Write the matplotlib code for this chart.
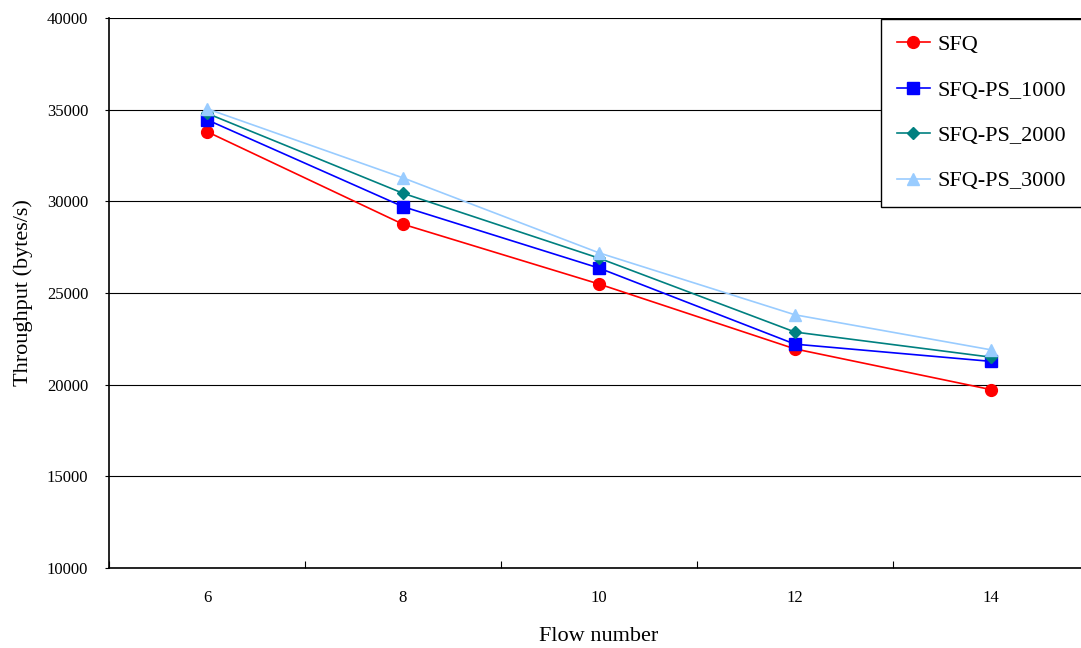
import matplotlib.pyplot as plt
from matplotlib.ticker import FixedLocator, NullFormatter

plt.rcParams['font.family'] = ['Liberation Serif', 'DejaVu Serif']

# --- data ---
flows = ['6', '8', '10', '12', '14']
sfq = [33800, 28750, 25490, 21950, 19730]
sfq_ps_1000 = [34450, 29710, 26360, 22210, 21270]
sfq_ps_2000 = [34800, 30440, 26900, 22870, 21500]
sfq_ps_3000 = [35050, 31280, 27190, 23810, 21900]

series = [
    ('SFQ', sfq, '#ff0000', 'o', 8.5),
    ('SFQ-PS_1000', sfq_ps_1000, '#0000ff', 's', 8),
    ('SFQ-PS_2000', sfq_ps_2000, '#008080', 'D', 6),
    ('SFQ-PS_3000', sfq_ps_3000, '#99ccff', '^', 9),
]

fig = plt.figure(figsize=(10.81, 6.48), dpi=100)
ax = fig.add_axes([109 / 1081, 80 / 648, 980 / 1081, 550 / 648])

x = list(range(len(flows)))
for name, vals, col, mk, ms in series:
    ax.plot(x, vals, color=col, marker=mk, markersize=ms, linewidth=1.2,
            label=name, clip_on=False)

ax.set_xlim(-0.5, len(flows) - 0.5)
ax.set_ylim(10000, 40000)
ax.set_yticks(range(10000, 40001, 5000))
ax.yaxis.grid(True, color='black', linewidth=0.8)
ax.set_axisbelow(True)

ax.set_xticks(x)
ax.set_xticklabels(flows)
ax.tick_params(axis='x', which='major', length=0, pad=16, labelsize=12)
ax.xaxis.set_minor_locator(FixedLocator([i - 0.5 for i in range(len(flows) + 1)]))
ax.xaxis.set_minor_formatter(NullFormatter())
ax.tick_params(axis='x', which='minor', direction='in', length=5, width=0.8)
ax.tick_params(axis='y', length=3, width=0.8, pad=12, labelsize=12)

for s in ['top', 'right']:
    ax.spines[s].set_visible(False)
for s in ['left', 'bottom']:
    ax.spines[s].set_linewidth(1.2)

ax.set_xlabel('Flow number', fontsize=16, labelpad=15)
ax.set_ylabel('Throughput (bytes/s)', fontsize=16, labelpad=10)

leg = ax.legend(loc='upper left', bbox_to_anchor=(881 / 1081, 1 - 19 / 648),
                bbox_transform=fig.transFigure, fontsize=16, frameon=True,
                fancybox=False, edgecolor='black', framealpha=1,
                handlelength=1.5, handletextpad=0.35, labelspacing=1.12,
                borderpad=0.7, borderaxespad=0)
leg.get_frame().set_linewidth(1.0)

fig.savefig('out.png', dpi=100)
